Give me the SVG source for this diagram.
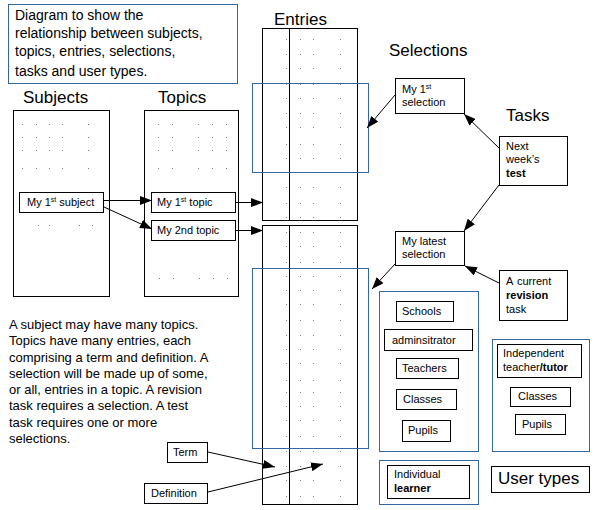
<svg xmlns="http://www.w3.org/2000/svg" xmlns:xlink="http://www.w3.org/1999/xlink" width="594" height="510" viewBox="0 0 594 510">
<style>
text{font-family:"Liberation Sans",Arial,sans-serif;fill:#000}
.box{fill:#fff;stroke:#000;stroke-width:1}
.col{fill:none;stroke:#000;stroke-width:1}
.grp{fill:none;stroke:#3465a4;stroke-width:1}
.lbl{font-size:17px}
.sm{font-size:11px}
.para{font-size:13px}
.title{font-size:14px}
.b{font-weight:bold}
.dots{fill:none;stroke:#777;stroke-width:1}
.con{fill:none;stroke:#000;stroke-width:1;marker-end:url(#ah)}
</style>
<defs>
<marker id="ah" markerUnits="userSpaceOnUse" markerWidth="12" markerHeight="9" refX="12" refY="4.5" orient="auto" viewBox="0 0 12 9">
<path d="M0 0L12 4.5L0 9z" fill="#000"/>
</marker>
<path id="erowsU" class="dots" d="M0 39.5h1M0 54.5h1M0 68.5h1M0 84.5h1M0 98.5h1M0 113.5h1M0 127.5h1M0 144.5h1M0 158.5h1M0 187.5h1M0 203.5h1M0 217.5h1"/>
<path id="erowsL" class="dots" d="M0 232.5h1M0 246.5h1M0 262.5h1M0 276.5h1M0 290.5h1M0 304.5h1M0 320.5h1M0 335.5h1M0 349.5h1M0 363.5h1M0 380.5h1M0 392.5h1M0 406.5h1M0 420.5h1M0 436.5h1M0 451.5h1M0 466.5h1M0 480.5h1M0 496.5h1"/>
<path id="srows" class="dots" d="M0 124.5h1M0 137.5h1M0 150.5h1M0 168.5h1"/>
</defs>
<rect width="594" height="510" fill="#fff"/>

<g id="title">
<rect class="grp" x="8.5" y="4.5" width="229" height="79"/>
<text class="title" x="15" y="20">Diagram to show the</text>
<text class="title" x="15" y="38">relationship between subjects,</text>
<text class="title" x="15" y="56">topics, entries, selections,</text>
<text class="title" x="15" y="76">tasks and user types.</text>
</g>

<g id="subjects">
<text class="lbl" x="23" y="103">Subjects</text>
<rect class="col" x="13.5" y="110.5" width="96" height="186"/>
<use xlink:href="#srows" x="22"/><use xlink:href="#srows" x="36"/><use xlink:href="#srows" x="49"/><use xlink:href="#srows" x="62"/><use xlink:href="#srows" x="88"/>
<path class="dots" d="M38 225.5h1M49 225.5h1M79 225.5h1M92 225.5h1"/>
</g>
<g id="subject1">
<rect class="box" x="19.5" y="192.5" width="84" height="20"/>
<text class="sm" x="27" y="206">My 1<tspan font-size="7" dy="-4">st</tspan><tspan dy="4"> subject</tspan></text>
</g>

<g id="topics">
<text class="lbl" x="158" y="103">Topics</text>
<rect class="col" x="144.5" y="110.5" width="94" height="186"/>
<use xlink:href="#srows" x="158"/><use xlink:href="#srows" x="172"/><use xlink:href="#srows" x="198"/><use xlink:href="#srows" x="212"/><use xlink:href="#srows" x="226"/>
<path class="dots" d="M159 278.5h1M173 278.5h1M199 278.5h1M213 278.5h1M227 278.5h1"/>
</g>
<g id="topic1">
<rect class="box" x="151.5" y="192.5" width="84" height="20"/>
<text class="sm" x="157" y="206">My 1<tspan font-size="7" dy="-4">st</tspan><tspan dy="4"> topic</tspan></text>
</g>
<g id="topic2">
<rect class="box" x="151.5" y="220.5" width="84" height="20"/>
<text class="sm" x="157" y="234">My 2nd topic</text>
</g>

<g id="entries">
<text class="lbl" x="274" y="25">Entries</text>
<rect class="col" x="262.5" y="28.5" width="95" height="192"/>
<line class="col" x1="289.5" y1="28" x2="289.5" y2="221"/>
<rect class="col" x="262.5" y="225.5" width="95" height="279"/>
<line class="col" x1="289.5" y1="225" x2="289.5" y2="505"/>
<use xlink:href="#erowsU" x="286"/><use xlink:href="#erowsU" x="300"/><use xlink:href="#erowsU" x="313"/><use xlink:href="#erowsU" x="340"/>
<use xlink:href="#erowsL" x="286"/><use xlink:href="#erowsL" x="300"/><use xlink:href="#erowsL" x="313"/><use xlink:href="#erowsL" x="340"/>
</g>
<g id="selection-ranges">
<rect class="grp" x="252.5" y="83.5" width="116" height="89"/>
<rect class="grp" x="252.5" y="268.5" width="116" height="180"/>
</g>

<g id="selections">
<text class="lbl" x="389" y="56">Selections</text>
</g>
<g id="selection1">
<rect class="box" x="395.5" y="78.5" width="69" height="35"/>
<text class="sm" x="402" y="93">My 1<tspan font-size="7" dy="-4">st</tspan></text>
<text class="sm" x="402" y="106">selection</text>
</g>
<g id="selection2">
<rect class="box" x="395.5" y="231.5" width="69" height="34"/>
<text class="sm" x="402" y="245">My latest</text>
<text class="sm" x="402" y="258">selection</text>
</g>

<g id="tasks">
<text class="lbl" x="506" y="121">Tasks</text>
</g>
<g id="task-test">
<rect class="box" x="499.5" y="136.5" width="68" height="49"/>
<text class="sm" x="506" y="150">Next</text>
<text class="sm" x="506" y="163">week’s</text>
<text class="sm b" x="506" y="177" font-size="12">test</text>
</g>
<g id="task-revision">
<rect class="box" x="499.5" y="270.5" width="68" height="50"/>
<text class="sm" x="506" y="285">A<tspan x="517">current</tspan></text>
<text class="sm b" x="506" y="299" font-size="12">revision</text>
<text class="sm" x="506" y="313">task</text>
</g>

<g id="school-users">
<rect class="grp" x="379.5" y="291.5" width="99" height="160"/>
<rect class="box" x="396.5" y="301.5" width="57" height="20"/>
<text class="sm" x="402" y="315">Schools</text>
<rect class="box" x="384.5" y="329.5" width="88" height="21"/>
<text class="sm" x="392" y="344">adminsitrator</text>
<rect class="box" x="396.5" y="358.5" width="62" height="20"/>
<text class="sm" x="402" y="372">Teachers</text>
<rect class="box" x="396.5" y="389.5" width="60" height="20"/>
<text class="sm" x="403" y="403">Classes</text>
<rect class="box" x="402.5" y="420.5" width="48" height="21"/>
<text class="sm" x="408" y="434">Pupils</text>
</g>
<g id="independent-users">
<rect class="grp" x="492.5" y="339.5" width="97" height="112"/>
<rect class="box" x="497.5" y="344.5" width="84" height="33"/>
<text class="sm" x="503" y="357">Independent</text>
<text class="sm" x="503" y="371">teacher<tspan class="b">/tutor</tspan></text>
<rect class="box" x="510.5" y="387.5" width="60" height="19"/>
<text class="sm" x="518" y="400">Classes</text>
<rect class="box" x="515.5" y="414.5" width="50" height="20"/>
<text class="sm" x="522" y="428">Pupils</text>
</g>
<g id="individual-users">
<rect class="grp" x="379.5" y="460.5" width="99" height="44"/>
<rect class="box" x="387.5" y="465.5" width="82" height="33"/>
<text class="sm" x="394" y="478">Individual</text>
<text class="sm b" x="394" y="492">learner</text>
</g>
<g id="user-types">
<rect class="box" x="491.5" y="466.5" width="98" height="26"/>
<text class="lbl" x="498" y="484">User types</text>
</g>

<g id="description">
<text class="para" x="9" y="329">A subject may have many topics.</text>
<text class="para" x="9" y="345">Topics have many entries, each</text>
<text class="para" x="9" y="362">comprising a term and definition. A</text>
<text class="para" x="9" y="378">selection will be made up of some,</text>
<text class="para" x="9" y="394">or all, entries in a topic. A revision</text>
<text class="para" x="9" y="410">task requires a selection. A test</text>
<text class="para" x="9" y="427">task requires one or more</text>
<text class="para" x="9" y="443">selections.</text>
</g>
<g id="term">
<rect class="box" x="167.5" y="442.5" width="40" height="20"/>
<text class="sm" x="173" y="456">Term</text>
</g>
<g id="definition">
<rect class="box" x="144.5" y="483.5" width="63" height="20"/>
<text class="sm" x="151" y="497">Definition</text>
</g>

<g id="connectors">
<line class="con" x1="104" y1="200.5" x2="152" y2="200.5"/>
<line class="con" x1="104" y1="207" x2="152" y2="229"/>
<line class="con" x1="236" y1="202.5" x2="263" y2="202.5"/>
<line class="con" x1="236" y1="230.5" x2="263" y2="230.5"/>
<line class="con" x1="395" y1="95" x2="367" y2="128"/>
<line class="con" x1="499" y1="148" x2="464" y2="114"/>
<line class="con" x1="499" y1="185" x2="464" y2="231"/>
<line class="con" x1="395" y1="264" x2="372" y2="289"/>
<line class="con" x1="499" y1="283" x2="465" y2="266"/>
<line class="con" x1="208" y1="452" x2="275" y2="467"/>
<line class="con" x1="208" y1="492" x2="323" y2="464"/>
</g>
</svg>
